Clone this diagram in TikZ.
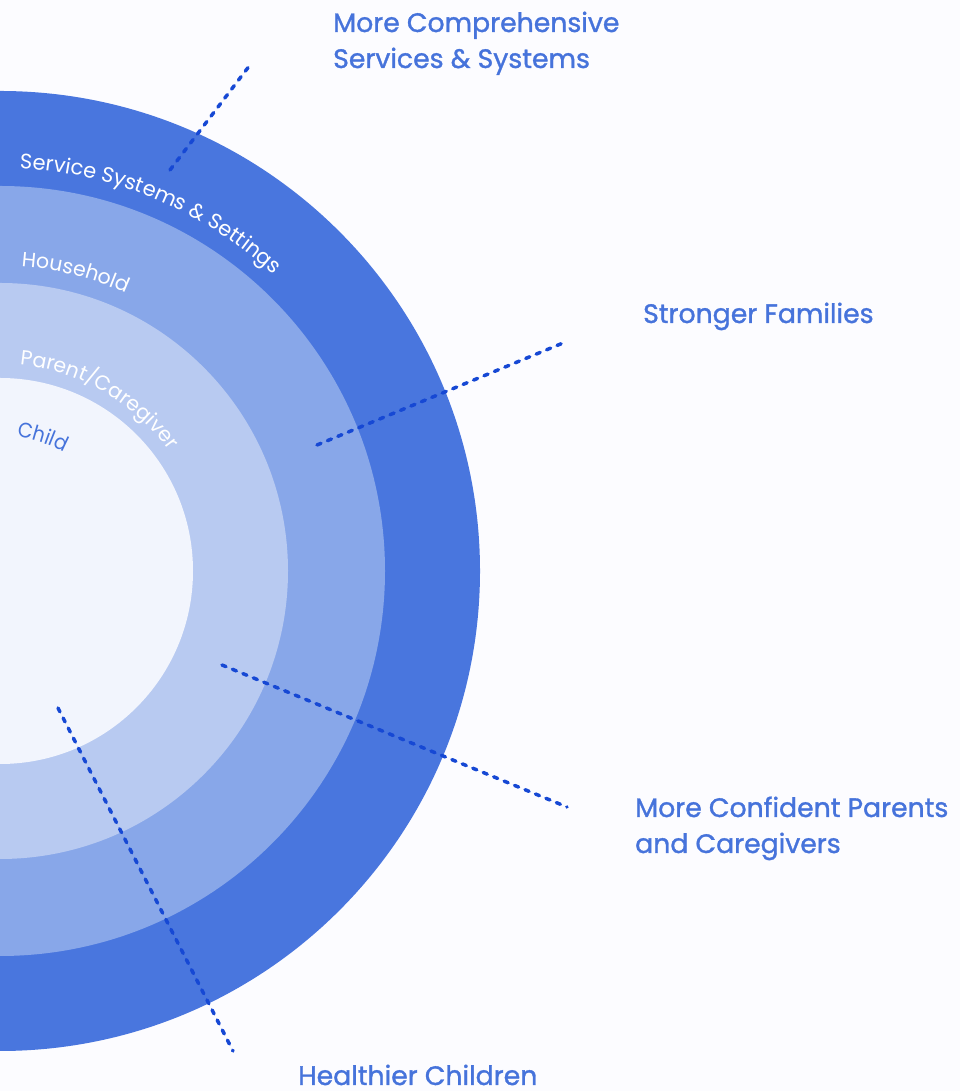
\documentclass[tikz,border=0pt]{standalone}
\usepackage{fontspec}
\setmainfont{Poppins}
\newfontfamily\lblfont{Poppins}[FakeBold=1.2]
\newfontfamily\ringfont{Poppins}
\newfontfamily\childfont{Poppins}[FakeStretch=0.92]
\usetikzlibrary{decorations.text}
\definecolor{bgc}{HTML}{FCFCFF}
\definecolor{ringA}{HTML}{4976DE}
\definecolor{ringB}{HTML}{88A7E9}
\definecolor{ringC}{HTML}{B8CAF1}
\definecolor{ringD}{HTML}{F2F5FD}
\definecolor{lblblue}{HTML}{4673DB}
\definecolor{dashblue}{HTML}{1648D4}
\tikzset{
  outcome/.style={font=\lblfont\fontsize{26.7}{36}\selectfont, text=lblblue, inner sep=0pt, anchor=base west, align=left},
  dashlink/.style={draw=dashblue, line width=3.5pt, line cap=round, dash pattern=on 4.3pt off 7pt},
}
\begin{document}
\begin{tikzpicture}[x=1pt,y=1pt]
\useasboundingbox (0,0) rectangle (960,1091);
\clip (0,0) rectangle (960,1091);
\fill[bgc] (0,0) rectangle (960,1091);
\coordinate (C) at (0,520);
\fill[ringA] (C) circle (480);
\fill[ringB] (C) circle (385);
\fill[ringC] (C) circle (288);
\fill[ringD] (C) circle (193);
% ring labels
\path[decorate, decoration={text along path, text align=left,
  text={|\ringfont\fontsize{21}{21}\selectfont\color{white}|Service Systems {\&} Settings}}]
  ([shift={(87.2:403)}]C) arc[start angle=87.2, end angle=20, radius=403];
\path[decorate, decoration={text along path, text align=left,
  text={|\ringfont\fontsize{20.5}{21}\selectfont\color{white}|Household}}]
  ([shift={(86:305)}]C) arc[start angle=86, end angle=20, radius=305];
\path[decorate, decoration={text along path, text align=left,
  text={|\ringfont\fontsize{20.5}{21}\selectfont\color{white}|Parent/Caregiver}}]
  ([shift={(84.5:207)}]C) arc[start angle=84.5, end angle=5, radius=207];
\path[decorate, decoration={text along path, text align=left,
  text={|\childfont\fontsize{21}{21}\selectfont\color{lblblue}|Child}}]
  ([shift={(82.8:135)}]C) arc[start angle=82.8, end angle=10, radius=135];
% outcome labels
\node[outcome] (comp) at (333,1023) {More Comprehensive\\Services \& Systems};
\node[outcome] (fam) at (643,768) {Stronger Families};
\node[outcome] (par) at (635,238) {More Confident Parents\\and Caregivers};
\node[outcome] (kid) at (298,6) {Healthier Children};
% dashed connectors
\coordinate (s1) at (170,921); \coordinate (e1) at (250,1026);
\coordinate (s2) at (317,646); \coordinate (e2) at (563,748);
\coordinate (s3) at (222,426); \coordinate (e3) at (567,284);
\coordinate (s4) at (58,383);  \coordinate (e4) at (233,40);
\draw[dashlink] (s1) -- (e1);
\draw[dashlink] (s2) -- (e2);
\draw[dashlink] (s3) -- (e3);
\draw[dashlink] (s4) -- (e4);
\end{tikzpicture}
\end{document}
